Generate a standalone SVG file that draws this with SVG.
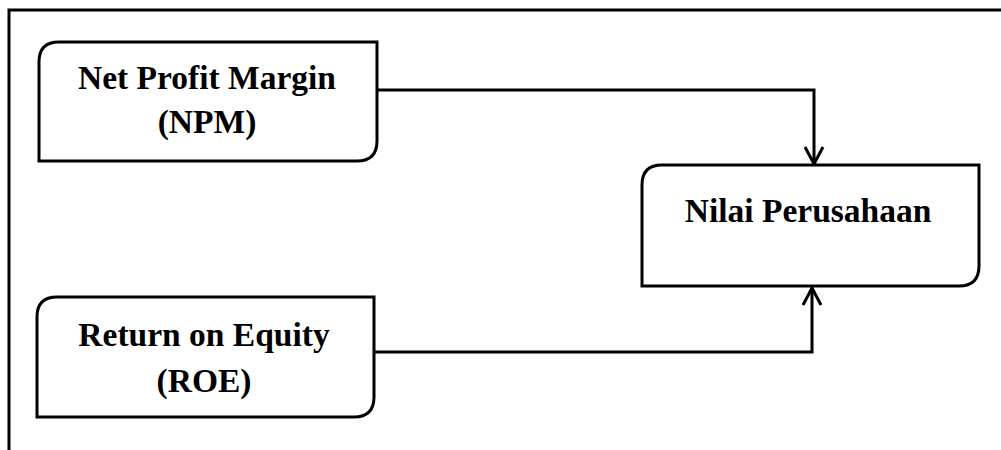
<svg xmlns="http://www.w3.org/2000/svg" width="1001" height="450" viewBox="0 0 1001 450">
<style>
.box{fill:#fff;stroke:#000;stroke-width:3}
.lbl{font-family:"Liberation Serif","Times New Roman",serif;font-weight:bold;font-size:33.5px;fill:#000;text-anchor:middle}
.con{fill:none;stroke:#000;stroke-width:3}
.frame{fill:none;stroke:#000;stroke-width:3}
</style>
<defs>
<marker id="arr" viewBox="0 0 24 24" refX="22" refY="12" markerWidth="24" markerHeight="24" markerUnits="userSpaceOnUse" orient="auto">
<path d="M5,3 L22,12 L5,21" fill="none" stroke="#000" stroke-width="3"/>
</marker>
</defs>
<path class="frame" d="M9,450 V10 H1001"/>
<g id="npm">
<path class="box" d="M59,42 H377 V141 Q377,161 357,161 H39 V62 Q39,42 59,42 Z"/>
<text class="lbl" x="207" y="89">Net Profit Margin</text>
<text class="lbl" x="207" y="133">(NPM)</text>
</g>
<g id="nilai">
<path class="box" d="M662,165 H979 V266 Q979,286 959,286 H642 V185 Q642,165 662,165 Z"/>
<text class="lbl" x="808" y="222">Nilai Perusahaan</text>
</g>
<g id="roe">
<path class="box" d="M57,297 H374 V397 Q374,417 354,417 H37 V317 Q37,297 57,297 Z"/>
<text class="lbl" x="204" y="346">Return on Equity</text>
<text class="lbl" x="204" y="392">(ROE)</text>
</g>
<g id="connectors">
<path class="con" d="M377,90 H814 V164" marker-end="url(#arr)"/>
<path class="con" d="M374,352 H812 V288" marker-end="url(#arr)"/>
</g>
</svg>
